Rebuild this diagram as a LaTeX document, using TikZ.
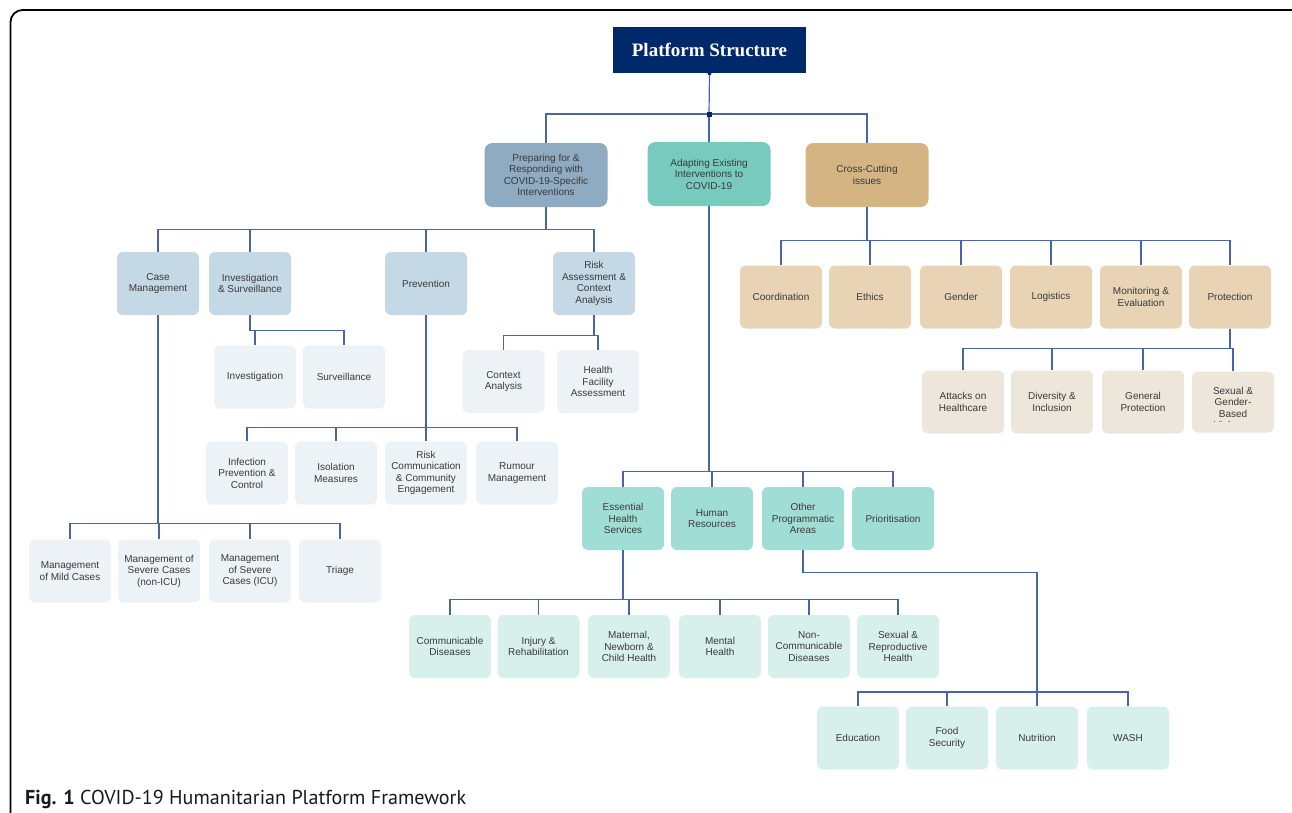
\documentclass[tikz,border=0pt]{standalone}
\usepackage{fontspec}
\newfontfamily\boxfont{Liberation Sans}
\newfontfamily\titlefont{Liberation Serif}
\newfontfamily\capfont{PT Sans}
\definecolor{navy}{HTML}{00296B}
\definecolor{lineblue}{HTML}{4A65A7}
\definecolor{txt}{HTML}{3A3A3A}
\definecolor{pA}{HTML}{8FABC2}
\definecolor{pB}{HTML}{C5D8E6}
\definecolor{pC}{HTML}{ECF2F6}
\definecolor{aA}{HTML}{78CABE}
\definecolor{aB}{HTML}{A0DDD4}
\definecolor{aC}{HTML}{D7F0EC}
\definecolor{cA}{HTML}{D4B483}
\definecolor{cB}{HTML}{E8D4B4}
\definecolor{cC}{HTML}{EDE6DB}
\begin{document}
\begin{tikzpicture}[x=1pt,y=-1pt,
  box/.style={rounded corners=6pt, minimum width=82pt, minimum height=63pt, align=center,
    font=\boxfont\fontsize{10}{11.5}\selectfont, text=txt, inner sep=2pt},
  topbox/.style={box, minimum width=123pt, minimum height=64pt, rounded corners=8pt},
  pone/.style={topbox, fill=pA}, ptwo/.style={box, fill=pB}, pthree/.style={box, fill=pC},
  aone/.style={topbox, fill=aA}, atwo/.style={box, fill=aB}, athree/.style={box, fill=aC},
  cone/.style={topbox, fill=cA}, ctwo/.style={box, fill=cB}, cthree/.style={box, fill=cC},
  conn/.style={draw=lineblue, line width=1.2pt}]
\useasboundingbox (0,0) rectangle (1292,812);
\begin{scope}
\clip (0,0) rectangle (1292,812);
\draw[line width=1.8pt, rounded corners=12pt] (10.5,10) rectangle (1320,850);
\end{scope}
% title
\node[fill=navy, minimum width=193pt, minimum height=46pt, text=white,
  font=\titlefont\bfseries\fontsize{19}{22}\selectfont] (title) at (709.5,50) {Platform Structure};
\coordinate (jn) at (709,114);
% level 1
\node[pone] (prep) at (546,175) {Preparing for \&\\Responding with\\COVID-19-Specific\\Interventions};
\node[aone] (adapt) at (709,174) {Adapting Existing\\Interventions to\\COVID-19};
\node[cone] (cross) at (867,175) {Cross-Cutting\\issues};
% preparing level 2
\node[ptwo] (cm) at (158,283.5) {Case\\Management};
\node[ptwo] (inv) at (250,283.5) {Investigation\\\& Surveillance};
\node[ptwo] (prev) at (426,283.5) {Prevention};
\node[ptwo] (risk) at (594,283.5) {Risk\\Assessment \&\\Context\\Analysis};
% preparing level 3
\node[pthree] (invest) at (255,377) {Investigation};
\node[pthree] (surv) at (344,377) {Surveillance};
\node[pthree] (ctx) at (503.5,381.5) {Context\\Analysis};
\node[pthree] (hfa) at (598,381.5) {Health\\Facility\\Assessment};
\node[pthree] (ipc) at (247,473) {Infection\\Prevention \&\\Control};
\node[pthree] (iso) at (336,473) {Isolation\\Measures};
\node[pthree] (rc) at (426,473) {Risk\\Communication\\\& Community\\Engagement};
\node[pthree] (rum) at (517,473) {Rumour\\Management};
\node[pthree] (mild) at (70,571) {Management\\of Mild Cases};
\node[pthree] (sev) at (159,571) {Management of\\Severe Cases\\(non-ICU)};
\node[pthree] (icu) at (250,571) {Management\\of Severe\\Cases (ICU)};
\node[pthree] (tri) at (340,571) {Triage};
% adapting level 2
\node[atwo] (ehs) at (623,518.5) {Essential\\Health\\Services};
\node[atwo] (hr) at (712,518.5) {Human\\Resources};
\node[atwo] (opa) at (803,518.5) {Other\\Programmatic\\Areas};
\node[atwo] (prio) at (893,518.5) {Prioritisation};
% adapting level 3
\node[athree] (cd) at (450,646.5) {Communicable\\Diseases};
\node[athree] (inj) at (538.5,646.5) {Injury \&\\Rehabilitation};
\node[athree] (mat) at (629,646.5) {Maternal,\\Newborn \&\\Child Health};
\node[athree] (men) at (720,646.5) {Mental\\Health};
\node[athree] (ncd) at (809,646.5) {Non-\\Communicable\\Diseases};
\node[athree] (srh) at (898,646.5) {Sexual \&\\Reproductive\\Health};
\node[athree] (edu) at (858,738) {Education};
\node[athree] (food) at (947,738) {Food\\Security};
\node[athree] (nut) at (1037,738) {Nutrition};
\node[athree] (wash) at (1128,738) {WASH};
% cross level 2
\node[ctwo] (coord) at (781,297) {Coordination};
\node[ctwo] (eth) at (870,297) {Ethics};
\node[ctwo] (gen) at (961,297) {Gender};
\node[ctwo] (logi) at (1051,297) {Logistics};
\node[ctwo] (me) at (1141,297) {Monitoring \&\\Evaluation};
\node[ctwo] (prot) at (1230,297) {Protection};
% cross level 3
\node[cthree] (att) at (963,402) {Attacks on\\Healthcare};
\node[cthree] (div) at (1052,402) {Diversity \&\\Inclusion};
\node[cthree] (genp) at (1143,402) {General\\Protection};
\node[cthree, minimum height=61pt] (sgbv) at (1233,402) {};
\begin{scope}
\clip (1190,372) rectangle (1276,421.5);
\node[font=\boxfont\fontsize{10}{11.5}\selectfont, text=txt, align=center, inner sep=0pt] (sgbvtext) at (1233,408) {Sexual \&\\Gender-\\Based\\Violence};
\end{scope}
% connectors
\draw[conn] (title.south) -- (jn);
\foreach \c in {prep,adapt,cross} \draw[conn] (jn) -| (\c.north);
\fill[navy] (jn) ++(-2.5,-2.5) rectangle ++(5,5);
\fill[navy] (title.south) circle (2pt);
\foreach \c in {cm,inv,prev,risk} \draw[conn] (prep.south) -- ++(0,22) -| (\c.north);
\foreach \c in {invest,surv} \draw[conn] (inv.south) -- ++(0,15) -| (\c.north);
\foreach \c in {ctx,hfa} \draw[conn] (risk.south) -- ++(0,20) -| (\c.north);
\foreach \c in {ipc,iso,rc,rum} \draw[conn] (prev.south) -- ++(0,112) -| (\c.north);
\foreach \c in {mild,sev,icu,tri} \draw[conn] (cm.south) -- ++(0,208) -| (\c.north);
\foreach \c in {ehs,hr,opa,prio} \draw[conn] (adapt.south) -- ++(0,265) -| (\c.north);
\foreach \c in {cd,inj,mat,men,ncd,srh} \draw[conn] (ehs.south) -- ++(0,49) -| (\c.north);
\draw[conn] (opa.south) -- ++(0,22) -| (nut.north);
\coordinate (obar) at (1037,692);
\foreach \c in {edu,food,wash} \draw[conn] (obar) -| (\c.north);
\foreach \c in {coord,eth,gen,logi,me,prot} \draw[conn] (cross.south) -- ++(0,33) -| (\c.north);
\foreach \c in {att,div,genp,sgbv} \draw[conn] (prot.south) -- ++(0,20) -| (\c.north);
% caption
\node[anchor=base west, inner sep=0pt, text=black!90, font=\capfont\fontsize{20.1}{23}\selectfont] (cap) at (25,804) {\textbf{Fig. 1} COVID-19 Humanitarian Platform Framework};
\end{tikzpicture}
\end{document}
